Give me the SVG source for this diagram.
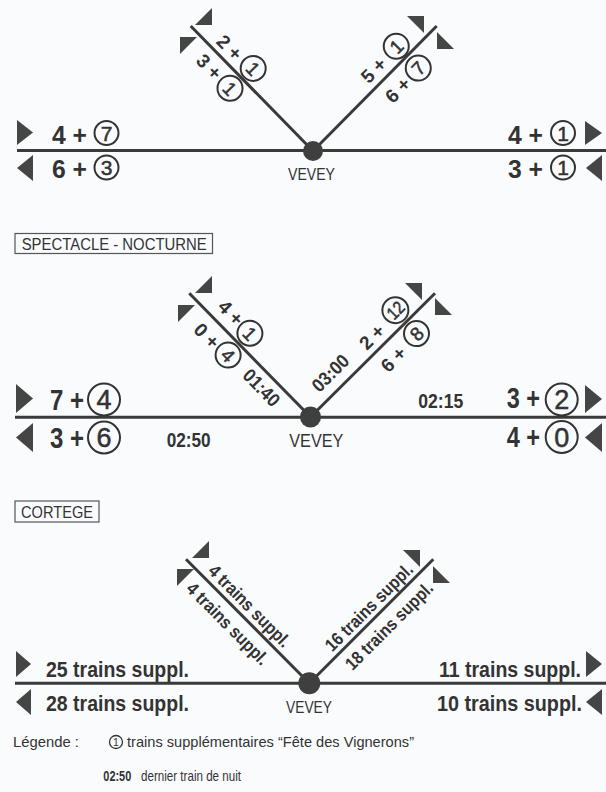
<svg xmlns="http://www.w3.org/2000/svg" width="606" height="792" viewBox="0 0 606 792">
<style>
.bg{fill:#fafbfd}
.ln{stroke:#3a3a3a;stroke-width:3;fill:none}
.ar{fill:#454545}
.dot{fill:#3f3f3f}
.t{font-family:"Liberation Sans",Arial,sans-serif;fill:#333}
.b{font-weight:bold}
.d{stroke:#333;stroke-width:0.5}
.c{fill:none;stroke:#333;stroke-width:2}
.box{fill:none;stroke:#555;stroke-width:1.2}
.m{text-anchor:middle}
.e{text-anchor:end}
</style>
<rect class="bg" x="0" y="0" width="606" height="792"/>

<!-- ===== TOP SECTION ===== -->
<g id="connectors-top">
  <line class="ln" x1="17" y1="150.5" x2="606" y2="150.5"/>
  <line class="ln" x1="190.7" y1="26" x2="313" y2="151"/>
  <line class="ln" x1="313" y1="151" x2="436.7" y2="26"/>
  <polygon class="ar" points="17,120 17,145 33,132.5"/>
  <polygon class="ar" points="33,155 33,181 17,168"/>
  <polygon class="ar" points="585,121 585,145 602,133"/>
  <polygon class="ar" points="602,155 602,181 586,168"/>
  <polygon class="ar" points="195,25 212,25 212,8"/>
  <polygon class="ar" points="180,37 197,37 180,54"/>
  <polygon class="ar" points="407,16 424,16 424,33"/>
  <polygon class="ar" points="437,32 437,49 454,49"/>
</g>
<g id="vevey-top">
  <circle class="dot" cx="313" cy="151" r="10"/>
  <text class="t m" x="311.5" y="180" font-size="17" textLength="47" lengthAdjust="spacingAndGlyphs">VEVEY</text>
</g>
<g id="top-west">
  <text class="t b" x="52" y="143.5" font-size="26" textLength="35" lengthAdjust="spacingAndGlyphs">4 +</text>
  <circle class="c" cx="106.5" cy="133" r="12"/>
  <text class="t d m" x="106.5" y="140.8" font-size="21">7</text>
  <text class="t b" x="52" y="177.5" font-size="26" textLength="35" lengthAdjust="spacingAndGlyphs">6 +</text>
  <circle class="c" cx="106.5" cy="167.5" r="12"/>
  <text class="t d m" x="106.5" y="175.3" font-size="21">3</text>
</g>
<g id="top-east">
  <text class="t b" x="508" y="143.5" font-size="26" textLength="35" lengthAdjust="spacingAndGlyphs">4 +</text>
  <circle class="c" cx="563" cy="133" r="12"/>
  <text class="t d m" x="563" y="140.8" font-size="21">1</text>
  <text class="t b" x="508" y="177.5" font-size="26" textLength="35" lengthAdjust="spacingAndGlyphs">3 +</text>
  <circle class="c" cx="563" cy="167.5" r="12"/>
  <text class="t d m" x="563" y="175.3" font-size="21">1</text>
</g>
<g id="top-northwest" transform="translate(190.7,26) rotate(45.6)">
  <text class="t b m" x="42.5" y="-6" font-size="19" textLength="27" lengthAdjust="spacingAndGlyphs">2 +</text>
  <circle class="c" cx="74" cy="-15" r="12.5"/>
  <text class="t d m" x="74" y="-8" font-size="19">1</text>
  <text class="t b m" x="42" y="22" font-size="19" textLength="27" lengthAdjust="spacingAndGlyphs">3 +</text>
  <circle class="c" cx="72" cy="15.5" r="12.5"/>
  <text class="t d m" x="72" y="22.5" font-size="19">1</text>
</g>
<g id="top-northeast" transform="translate(313,151) rotate(-45.3)">
  <text class="t b m" x="100" y="-7" font-size="19" textLength="27" lengthAdjust="spacingAndGlyphs">5 +</text>
  <circle class="c" cx="133" cy="-14.5" r="12.5"/>
  <text class="t d m" x="133" y="-7.5" font-size="19">1</text>
  <text class="t b m" x="103" y="24" font-size="19" textLength="27" lengthAdjust="spacingAndGlyphs">6 +</text>
  <circle class="c" cx="133" cy="16.5" r="12.5"/>
  <text class="t d m" x="133" y="23.5" font-size="19">7</text>
</g>

<!-- ===== MIDDLE SECTION ===== -->
<g id="label-spectacle">
  <rect class="box" x="15" y="233.5" width="197.5" height="20"/>
  <text class="t" x="21.7" y="250.3" font-size="16" textLength="185" lengthAdjust="spacingAndGlyphs">SPECTACLE - NOCTURNE</text>
</g>
<g id="connectors-middle">
  <line class="ln" x1="15" y1="417.3" x2="606" y2="417.3"/>
  <line class="ln" x1="189.3" y1="293.3" x2="310.5" y2="417"/>
  <line class="ln" x1="310.5" y1="417" x2="435" y2="293.3"/>
  <polygon class="ar" points="16,384 16,413 33,398.5"/>
  <polygon class="ar" points="33,423 33,452 16,437.5"/>
  <polygon class="ar" points="585,385 585,413 602,399"/>
  <polygon class="ar" points="602,423 602,452 585,437.5"/>
  <polygon class="ar" points="195,293 212,293 212,276"/>
  <polygon class="ar" points="178,305 195,305 178,322"/>
  <polygon class="ar" points="405,283 422,283 422,300"/>
  <polygon class="ar" points="435,298 435,315 452,315"/>
</g>
<g id="vevey-middle">
  <circle class="dot" cx="310.5" cy="417" r="10.5"/>
  <text class="t m" x="316.3" y="446.7" font-size="19" textLength="54" lengthAdjust="spacingAndGlyphs">VEVEY</text>
</g>
<g id="middle-west">
  <text class="t b" x="50" y="410" font-size="29" textLength="34" lengthAdjust="spacingAndGlyphs">7 +</text>
  <circle class="c" cx="104" cy="399.5" r="16"/>
  <text class="t d m" x="104" y="409.3" font-size="27">4</text>
  <text class="t b" x="50" y="447.5" font-size="29" textLength="34" lengthAdjust="spacingAndGlyphs">3 +</text>
  <circle class="c" cx="104" cy="437.5" r="16"/>
  <text class="t d m" x="104" y="447.3" font-size="27">6</text>
  <text class="t b" x="166.7" y="447.3" font-size="20" textLength="44" lengthAdjust="spacingAndGlyphs">02:50</text>
</g>
<g id="middle-east">
  <text class="t b" x="418.3" y="408.3" font-size="20" textLength="45" lengthAdjust="spacingAndGlyphs">02:15</text>
  <text class="t b" x="506.7" y="408.3" font-size="29" textLength="33.3" lengthAdjust="spacingAndGlyphs">3 +</text>
  <circle class="c" cx="561.7" cy="399.5" r="16"/>
  <text class="t d m" x="561.7" y="409.3" font-size="27">2</text>
  <text class="t b" x="506.7" y="446.7" font-size="29" textLength="33.3" lengthAdjust="spacingAndGlyphs">4 +</text>
  <circle class="c" cx="561.7" cy="437" r="16"/>
  <text class="t d m" x="561.7" y="446.8" font-size="27">0</text>
</g>
<g id="middle-northwest" transform="translate(189.3,293.3) rotate(45.6)">
  <text class="t b m" x="43" y="-9.5" font-size="19" textLength="27" lengthAdjust="spacingAndGlyphs">4 +</text>
  <circle class="c" cx="71" cy="-15.3" r="12.5"/>
  <text class="t d m" x="71" y="-8.3" font-size="19">1</text>
  <text class="t b m" x="42.5" y="23.8" font-size="19" textLength="27" lengthAdjust="spacingAndGlyphs">0 +</text>
  <circle class="c" cx="71.3" cy="15.5" r="12.5"/>
  <text class="t d m" x="71.3" y="22.5" font-size="19">4</text>
  <text class="t b m" x="118" y="21" font-size="19" textLength="44" lengthAdjust="spacingAndGlyphs">01:40</text>
</g>
<g id="middle-northeast" transform="translate(310.5,417) rotate(-44.8)">
  <text class="t b m" x="45" y="-10.5" font-size="19" textLength="44" lengthAdjust="spacingAndGlyphs">03:00</text>
  <text class="t b m" x="100" y="-7" font-size="19" textLength="27" lengthAdjust="spacingAndGlyphs">2 +</text>
  <circle class="c" cx="135.5" cy="-16" r="13"/>
  <text class="t d m" x="135.5" y="-9.5" font-size="18" textLength="17" lengthAdjust="spacingAndGlyphs">12</text>
  <text class="t b m" x="99.5" y="24" font-size="19" textLength="27" lengthAdjust="spacingAndGlyphs">6 +</text>
  <circle class="c" cx="134" cy="15.5" r="12.5"/>
  <text class="t d m" x="134" y="22.5" font-size="19">8</text>
</g>

<!-- ===== BOTTOM SECTION ===== -->
<g id="label-cortege">
  <rect class="box" x="15" y="501" width="84" height="21"/>
  <text class="t" x="21" y="517.8" font-size="16" textLength="72" lengthAdjust="spacingAndGlyphs">CORTEGE</text>
</g>
<g id="connectors-bottom">
  <line class="ln" x1="15" y1="683.3" x2="606" y2="683.3"/>
  <line class="ln" x1="186" y1="559.3" x2="309.3" y2="683.3"/>
  <line class="ln" x1="309.3" y1="683.3" x2="433.3" y2="559.3"/>
  <polygon class="ar" points="16,651 16,677 31,664"/>
  <polygon class="ar" points="31,689 31,715 16,702"/>
  <polygon class="ar" points="586,651 586,677 602,664"/>
  <polygon class="ar" points="602,689 602,715 586,702"/>
  <polygon class="ar" points="192,558 209,558 209,541"/>
  <polygon class="ar" points="177,569 194,569 177,586"/>
  <polygon class="ar" points="403,550 420,550 420,567"/>
  <polygon class="ar" points="433,566 433,583 450,583"/>
</g>
<g id="vevey-bottom">
  <circle class="dot" cx="309.3" cy="683.3" r="11"/>
  <text class="t m" x="309" y="713" font-size="17" textLength="46" lengthAdjust="spacingAndGlyphs">VEVEY</text>
</g>
<g id="bottom-west">
  <text class="t b" x="46" y="676.5" font-size="22" textLength="143" lengthAdjust="spacingAndGlyphs">25 trains suppl.</text>
  <text class="t b" x="46" y="710.5" font-size="22" textLength="143" lengthAdjust="spacingAndGlyphs">28 trains suppl.</text>
</g>
<g id="bottom-east">
  <text class="t b e" x="581" y="676.5" font-size="22" textLength="142" lengthAdjust="spacingAndGlyphs">11 trains suppl.</text>
  <text class="t b e" x="582" y="710.5" font-size="22" textLength="145" lengthAdjust="spacingAndGlyphs">10 trains suppl.</text>
</g>
<g id="bottom-northwest" transform="translate(186,559.3) rotate(45.2)">
  <text class="t b m" x="78" y="-6" font-size="18" textLength="108" lengthAdjust="spacingAndGlyphs">4 trains suppl.</text>
  <text class="t b m" x="75" y="22" font-size="18" textLength="108" lengthAdjust="spacingAndGlyphs">4 trains suppl.</text>
</g>
<g id="bottom-northeast" transform="translate(309.3,683.3) rotate(-45)">
  <text class="t b m" x="96" y="-5.5" font-size="18" textLength="116" lengthAdjust="spacingAndGlyphs">16 trains suppl.</text>
  <text class="t b m" x="97" y="22" font-size="18" textLength="116" lengthAdjust="spacingAndGlyphs">18 trains suppl.</text>
</g>

<!-- ===== LEGEND ===== -->
<g id="legend">
  <text class="t" x="13" y="747" font-size="15.5" textLength="66" lengthAdjust="spacingAndGlyphs">Légende :</text>
  <circle cx="116" cy="742" r="6.5" fill="none" stroke="#333" stroke-width="1.3"/>
  <text class="t m" x="116" y="745.8" font-size="10.5">1</text>
  <text class="t" x="127" y="747" font-size="15" textLength="287" lengthAdjust="spacingAndGlyphs">trains supplémentaires “Fête des Vignerons”</text>
  <text class="t b" x="103.3" y="781" font-size="14.5" textLength="28" lengthAdjust="spacingAndGlyphs">02:50</text>
  <text class="t" x="141" y="781" font-size="15" textLength="100" lengthAdjust="spacingAndGlyphs">dernier train de nuit</text>
</g>
</svg>
